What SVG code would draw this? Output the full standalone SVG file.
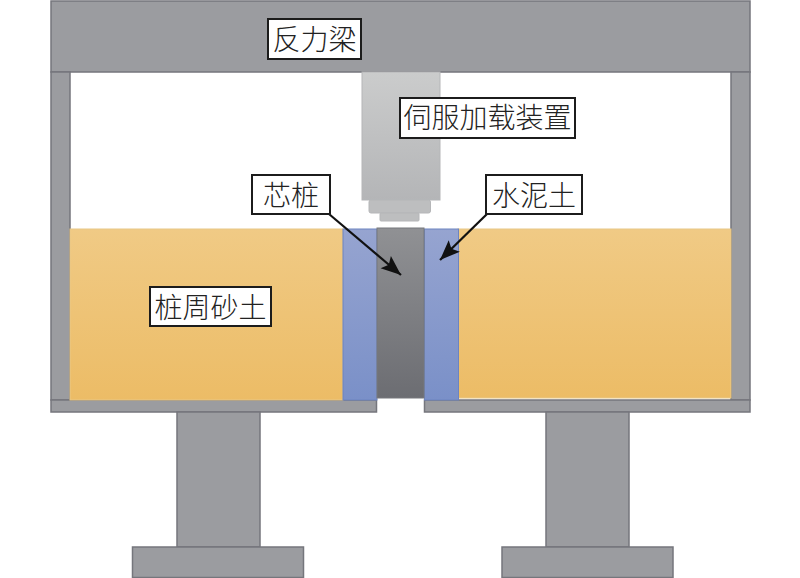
<svg xmlns="http://www.w3.org/2000/svg" width="800" height="578" viewBox="0 0 800 578">
<style>
.s{fill:#9b9ca0;stroke:#75767c;stroke-width:1.5}
.l{fill:#fff;stroke:#1c1c1c;stroke-width:2}
.t{font-family:"Noto Sans CJK SC","Noto Sans CJK JP",sans-serif;font-weight:300;font-size:28px;fill:#222;text-anchor:middle}
.a{stroke:#111;stroke-width:2.200;fill:none;marker-end:url(#ah)}
</style>
<defs>
<marker id="ah" markerUnits="userSpaceOnUse" markerWidth="24" markerHeight="18" refX="20" refY="8" orient="auto"><path d="M0 0L20 8L0 16L4 8Z" fill="#111"/></marker>
<linearGradient id="g1" x1="0" y1="0" x2="0" y2="1"><stop offset="0" stop-color="#f0ca85"/><stop offset="1" stop-color="#ecbc66"/></linearGradient>
<linearGradient id="g2" x1="0" y1="0" x2="0" y2="1"><stop offset="0" stop-color="#96a4d0"/><stop offset="1" stop-color="#7a90c8"/></linearGradient>
<linearGradient id="g3" x1="0" y1="0" x2="0" y2="1"><stop offset="0" stop-color="#909194"/><stop offset="1" stop-color="#6c6d72"/></linearGradient>
<linearGradient id="g4" x1="0" y1="0" x2="0" y2="1"><stop offset="0" stop-color="#cbcccc"/><stop offset="1" stop-color="#b4b5b7"/></linearGradient>
</defs>
<g id="frame">
<rect class="s" x="51" y="1" width="699" height="71"/>
<rect class="s" x="51" y="72" width="19" height="328"/>
<rect class="s" x="731" y="72" width="19" height="328"/>
<rect class="s" x="51" y="400" width="325.500" height="12"/>
<rect class="s" x="424.500" y="400" width="325.500" height="12"/>
<rect class="s" x="177" y="412" width="83" height="135"/>
<rect class="s" x="132.500" y="547" width="171" height="30.500"/>
<rect class="s" x="546" y="412" width="83" height="135"/>
<rect class="s" x="502" y="547" width="171" height="30.500"/>
</g>
<g id="soil">
<rect x="70" y="229" width="273" height="171" fill="url(#g1)" stroke="#e8c888" stroke-width="1"/>
<rect x="458" y="229" width="273" height="169" fill="url(#g1)" stroke="#e8c888" stroke-width="1"/>
</g>
<g id="cement">
<rect x="343" y="229" width="34" height="171" fill="url(#g2)" stroke="#6d84c0" stroke-width="1"/>
<rect x="424.500" y="229" width="34" height="171" fill="url(#g2)" stroke="#6d84c0" stroke-width="1"/>
</g>
<rect id="pile" x="377" y="228" width="47" height="170" fill="url(#g3)" stroke="#77787c" stroke-width="1"/>
<g id="actuator">
<rect x="362" y="72" width="78" height="128" fill="url(#g4)" stroke="#b5b6b8" stroke-width="1"/>
<rect x="369" y="200" width="61.500" height="13" rx="2" fill="#bdbebf" stroke="#b5b6b8" stroke-width="1"/>
<rect x="380" y="213" width="39" height="8" rx="1" fill="#bdbebf" stroke="#b5b6b8" stroke-width="1"/>
</g>
<g id="connectors">
<line class="a" x1="329" y1="214" x2="401" y2="275"/>
<line class="a" x1="487" y1="214" x2="440" y2="260"/>
</g>
<g id="n1"><rect class="l" x="268" y="19" width="93" height="40"/><text class="t" x="314.500" y="50">反力梁</text></g>
<g id="n2"><rect class="l" x="400" y="98" width="175" height="40"/><text class="t" x="487.500" y="128">伺服加载装置</text></g>
<g id="n3"><rect class="l" x="252" y="175" width="78" height="39"/><text class="t" x="291" y="206">芯桩</text></g>
<g id="n4"><rect class="l" x="486" y="175" width="96" height="39"/><text class="t" x="534" y="206">水泥土</text></g>
<g id="n5"><rect class="l" x="150" y="287" width="121" height="39"/><text class="t" x="210.500" y="318">桩周砂土</text></g>
</svg>
